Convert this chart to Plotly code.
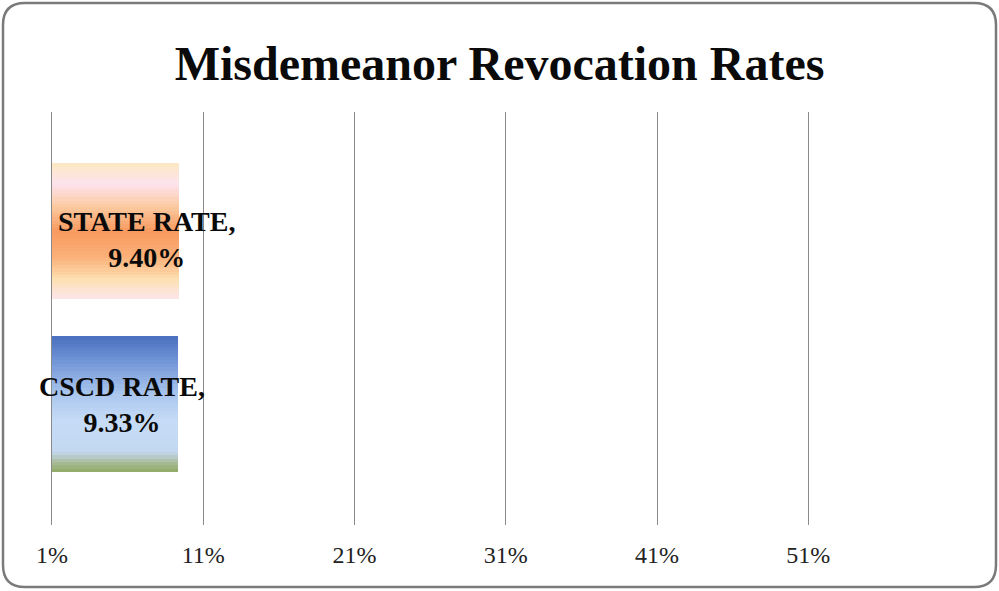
import plotly.graph_objects as go

categories = ["CSCD RATE", "STATE RATE"]
values = [9.33, 9.40]
tick_vals = [1, 11, 21, 31, 41, 51]
tick_text = ["1%", "11%", "21%", "31%", "41%", "51%"]
title_text = "Misdemeanor Revocation Rates"

W, H = 999, 591
ML, MR, MT, MB = 52, 41, 112, 66
PW, PH = W - ML - MR, H - MT - MB

# gradient stops, from top (0) to bottom (1) of each bar
state_stops = [(0.0, "#fde8c2"), (0.15, "#fde3ee"), (0.32, "#fbcaa0"),
               (0.5, "#f8995f"), (0.7, "#fab27a"), (0.86, "#fde0b2"), (1.0, "#fde6ea")]
cscd_stops = [(0.0, "#4a70c0"), (0.2, "#7698d8"), (0.42, "#a9c6ee"),
              (0.62, "#c6dbf6"), (0.85, "#c3d8f0"), (0.93, "#a9bb98"), (1.0, "#8faa62")]


def hex2rgb(h):
    h = h.lstrip("#")
    return tuple(int(h[i:i + 2], 16) for i in (0, 2, 4))


def interp(stops, t):
    for (t0, c0), (t1, c1) in zip(stops[:-1], stops[1:]):
        if t0 <= t <= t1:
            f = (t - t0) / (t1 - t0) if t1 > t0 else 0
            a, b = hex2rgb(c0), hex2rgb(c1)
            r = [round(a[k] + (b[k] - a[k]) * f) for k in range(3)]
            return "rgb(%d,%d,%d)" % tuple(r)
    return stops[-1][1]


fig = go.Figure()
N = 40
bw = 0.78
step = bw / N
for i in range(N):
    t = 1 - (i + 0.5) / N  # i=0 is bottom strip
    fig.add_trace(go.Bar(
        x=values, y=categories, orientation="h",
        width=[step * 1.15] * 2,
        offset=[-bw / 2 + i * step] * 2,
        marker=dict(color=[interp(cscd_stops, t), interp(state_stops, t)],
                    line=dict(width=0)),
        showlegend=False, hoverinfo="skip",
    ))

label_x = [5.6, 7.25]
label_shift = [0, -9]
for cat, val, lx, ys in zip(categories, values, label_x, label_shift):
    fig.add_annotation(
        x=lx, y=cat, xref="x", yref="y", yshift=ys,
        text=f"<b>{cat},<br>{val:.2f}%</b>", showarrow=False,
        font=dict(family="Liberation Serif", size=28, color="#0a0a0a"),
        xanchor="center", yanchor="middle", align="center",
    )

# rounded border around the whole chart
def P(x, y):
    xp, yp = (x - ML) / PW, 1 - (y - MT) / PH
    return f"{xp:.5f},{yp:.5f}"

L, R, T, B, rad = 3, 996, 3, 587, 22
path = (f"M {P(L + rad, T)} L {P(R - rad, T)} Q {P(R, T)} {P(R, T + rad)} "
        f"L {P(R, B - rad)} Q {P(R, B)} {P(R - rad, B)} "
        f"L {P(L + rad, B)} Q {P(L, B)} {P(L, B - rad)} "
        f"L {P(L, T + rad)} Q {P(L, T)} {P(L + rad, T)} Z")
fig.add_shape(type="path", path=path, xref="paper", yref="paper",
              line=dict(color="#7a7a7a", width=2.5), layer="above")

fig.update_layout(
    width=W, height=H,
    margin=dict(l=ML, r=MR, t=MT, b=MB),
    paper_bgcolor="white", plot_bgcolor="white",
    barmode="overlay", bargap=0,
    title=dict(text=f"<b>{title_text}</b>", x=0.494, xref="paper",
               y=1 - 63 / H, yanchor="middle", xanchor="center",
               font=dict(family="Liberation Serif", size=48, color="#0a0a0a")),
    xaxis=dict(range=[1, 60.9], tickvals=tick_vals, ticktext=tick_text,
               showgrid=True, gridcolor="#8a8a8a", gridwidth=1,
               zeroline=False, showline=False, ticks="",
               ticklabelstandoff=13,
               tickfont=dict(family="Liberation Serif", size=24, color="#222222")),
    yaxis=dict(range=[-0.695, 1.686], showticklabels=False, showgrid=False,
               zeroline=False, showline=True, linecolor="#8a8a8a", linewidth=1,
               ticks=""),
)

fig.write_html("out.html", config={"displayModeBar": False},
               post_script="document.body.style.margin='0';document.body.style.padding='0';")
